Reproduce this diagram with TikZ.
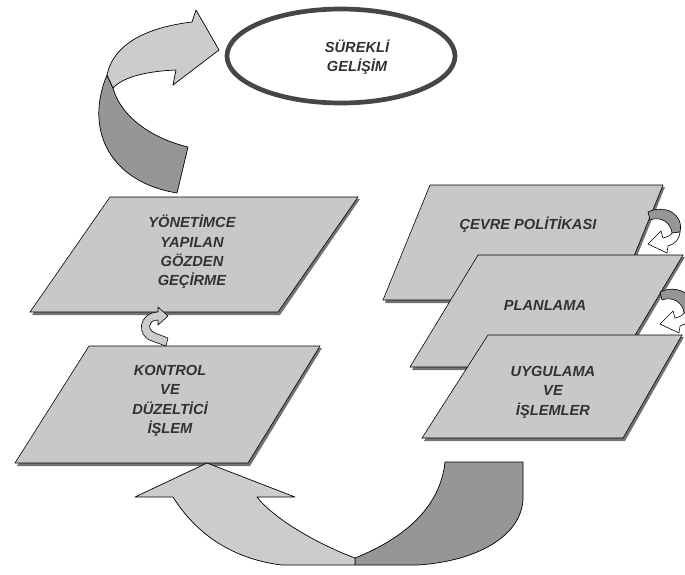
\documentclass[tikz,border=0pt]{standalone}
\usepackage{fontspec}
\setmainfont{Liberation Sans}
\usepackage{tikz}
\usetikzlibrary{shapes.geometric}
\usepackage{xcolor}
\definecolor{boxgray}{RGB}{200,200,200}
\definecolor{ribbonlight}{RGB}{204,204,204}
\definecolor{ribbondark}{RGB}{150,150,150}
\definecolor{ringgray}{RGB}{70,70,70}
\definecolor{textgray}{RGB}{50,50,50}
\tikzstyle{box} = [draw=black, line width=0.5pt, fill=boxgray]
\tikzstyle{boxshadow} = [fill=black!55]
\tikzstyle{ribbon} = [draw=black, line width=0.6pt, line join=round]
\tikzstyle{lbl} = [align=center, text=textgray, inner sep=0pt, font=\fontsize{12.5}{16.6}\selectfont\bfseries\itshape]

\begin{document}
\begin{tikzpicture}[x=0.03cm, y=-0.03cm]
\useasboundingbox (0,0) rectangle (685,574);

% Upper ribbon arrow
\filldraw[ribbon, fill=ribbondark] (107,75) -- (113,88) .. controls (120,115) and (150,138) .. (188,147)
  -- (177,193) .. controls (110,182) and (84,130) .. (107,75) -- cycle;
\filldraw[ribbon, fill=ribbonlight] (107,75) .. controls (114,42) and (150,27) .. (192,22)
  -- (196,10) -- (219,50) -- (173,85) -- (176,70) .. controls (150,71) and (124,76) .. (113,88) -- cycle;

% Goal ellipse
\node[ellipse, draw=ringgray, line width=4pt, minimum width=6.84cm, minimum height=2.82cm] (goal) at (341,56) {};
\node[lbl] (goaltext) at (357,57) {SÜREKLİ\\GELİŞİM};

% Management review box
\fill[boxshadow] (112,199) -- (360,199) -- (280,315) -- (32,315) -- cycle;
\filldraw[box] (110,197) -- (358,197) -- (278,312) -- (30,312) -- cycle;
\node[lbl] (review) at (192,252) {YÖNETİMCE\\YAPILAN\\GÖZDEN\\GEÇİRME};

% Control box
\fill[boxshadow] (91,348) -- (322,348) -- (250,466) -- (17,466) -- cycle;
\filldraw[box] (89,346) -- (320,346) -- (248,463) -- (15,463) -- cycle;
\node[lbl] (control) at (170,401) {KONTROL\\VE\\DÜZELTİCİ\\İŞLEM};

% small arrow control -> review
\filldraw[ribbon, fill=ribbonlight, line width=0.5pt] (158,307) -- (168,316) -- (158,325) -- (158,320)
  .. controls (148,320) and (147,330) .. (155,333) -- (168,338) -- (166,346) -- (152,341)
  .. controls (136,336) and (138,313) .. (158,312) -- cycle;

% Policy box
\fill[boxshadow] (432,187) -- (665,187) -- (618,303) -- (385,303) -- cycle;
\filldraw[box] (430,185) -- (663,185) -- (616,300) -- (383,300) -- cycle;
\node[lbl] (policy) at (528,225) {ÇEVRE POLİTİKASI};

% small arrow policy -> planning
\filldraw[ribbon, fill=ribbondark, line width=0.5pt] (648,212) .. controls (665,204) and (684,214) .. (680,232)
  -- (672,233) .. controls (671,222) and (660,216) .. (650,220) -- cycle;
\filldraw[ribbon, fill=white, line width=0.5pt] (680,232) .. controls (679,240) and (675,244) .. (668,246)
  -- (667,253) -- (648,244) -- (661,231) -- (663,238) .. controls (668,237) and (671,235) .. (672,233) -- cycle;

% Planning box
\fill[boxshadow] (480,257) -- (685,257) -- (618,370) -- (412,370) -- cycle;
\filldraw[box] (478,255) -- (683,255) -- (616,367) -- (410,367) -- cycle;
\node[lbl] (planning) at (545,305) {PLANLAMA};

% small arrow planning -> operation
\filldraw[ribbon, fill=ribbondark, line width=0.5pt] (660,292) .. controls (677,284) and (696,294) .. (692,312)
  -- (684,313) .. controls (683,302) and (672,296) .. (662,300) -- cycle;
\filldraw[ribbon, fill=white, line width=0.5pt] (692,312) .. controls (691,320) and (687,324) .. (680,326)
  -- (679,333) -- (660,324) -- (673,311) -- (675,318) .. controls (680,317) and (683,315) .. (684,313) -- cycle;

% Operation box
\fill[boxshadow] (490,337) -- (684,337) -- (625,441) -- (424,441) -- cycle;
\filldraw[box] (488,335) -- (682,335) -- (623,438) -- (422,438) -- cycle;
\node[lbl] (operation) at (553,392) {UYGULAMA\\VE\\İŞLEMLER};

% Lower ribbon arrow
\filldraw[ribbon, fill=ribbondark] (355,558) .. controls (400,540) and (440,510) .. (445,462) -- (523,462)
  -- (523,500) .. controls (520,540) and (470,562) .. (417,565) -- (355,565) -- cycle;
\filldraw[ribbon, fill=ribbonlight] (207,463) -- (295,497) -- (257,497) .. controls (275,520) and (320,545) .. (355,558)
  -- (355,565) -- (282,565) .. controls (240,560) and (200,540) .. (173,497) -- (135,497) -- cycle;
\end{tikzpicture}
\end{document}
